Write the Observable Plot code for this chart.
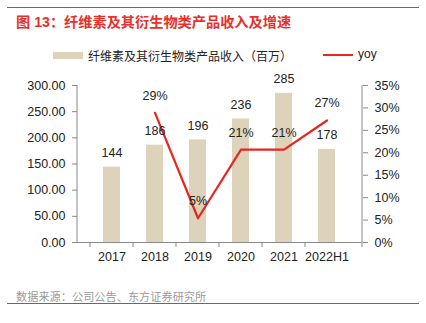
<!DOCTYPE html>
<html><head><meta charset="utf-8">
<script src="https://cdn.jsdelivr.net/npm/d3@7"></script>
<script src="https://cdn.jsdelivr.net/npm/@observablehq/plot@0.6"></script>
<style>
body{margin:0;background:#fff;width:426px;height:323px;position:relative;overflow:hidden;font-family:"Liberation Sans",Arial,"Noto Sans CJK SC",sans-serif;}
.abs{position:absolute;white-space:nowrap;}
#chart{position:absolute;left:0;top:70px;}
</style></head>
<body>
<div class="abs" style="left:7px;top:7px;width:412px;height:1px;background:#e8332c"></div>
<div class="abs" style="left:16px;top:11px;font-size:14.2px;font-weight:bold;color:#e8302b;">图 13：纤维素及其衍生物类产品收入及增速</div>
<div class="abs" style="left:53px;top:52px;width:30px;height:7px;background:#ddd3bb"></div>
<div class="abs" style="left:88px;top:47px;font-size:12px;color:#222;">纤维素及其衍生物类产品收入（百万）</div>
<div class="abs" style="left:323px;top:54px;width:30px;height:2px;background:#e8261f"></div>
<div class="abs" style="left:358px;top:47px;font-size:12px;color:#222;">yoy</div>
<div id="chart"></div>
<div class="abs" style="left:16px;top:288px;font-size:11.2px;color:#9a9a9a;">数据来源：公司公告、东方证券研究所</div>
<div class="abs" style="left:7px;top:303px;width:412px;height:1px;background:#e8332c"></div>
<script>
const years = ["2017","2018","2019","2020","2021","2022H1"];
const revenue = [144,186,196,236,285,178];
const yoyYears = ["2018","2019","2020","2021","2022H1"];
const yoy = [28.9,5.4,20.7,20.7,27.2];
const yoyLabels = ["29%","5%","21%","21%","27%"];
const leftTicks = [0,50,100,150,200,250,300];
const rightTicks = [0,5,10,15,20,25,30,35];

const k = 300/35;
const bars = years.map((y,i)=>({year:y, v:revenue[i]}));
const line = yoyYears.map((y,i)=>({year:y, v:yoy[i]*k, label:yoyLabels[i]}));

const chart = Plot.plot({
  width:426, height:200,
  marginTop:15, marginBottom:28, marginLeft:77, marginRight:64,
  style:{fontFamily:'"Liberation Sans",Arial,sans-serif', fontSize:"12.5px", color:"#222", background:"transparent"},
  x:{domain:years, padding:0.6},
  y:{domain:[0,300]},
  marks:[
    Plot.barY(bars,{x:"year", y:"v", fill:"#ddd3bb"}),
    Plot.lineY(line,{x:"year", y:"v", stroke:"#e8261f", strokeWidth:2.2}),
    Plot.text(bars,{x:"year", y:"v", text:d=>String(d.v), dy:-14, fill:"#222", fontSize:12.5}),
    Plot.text(line,{x:"year", y:"v", text:"label", dy:-17, fill:"#222", fontSize:12.5}),
    Plot.ruleY([0],{stroke:"#888"}),
    Plot.axisY(leftTicks,{anchor:"left", tickSize:5, tickPadding:7, stroke:"#888", tickFormat:d=>d.toFixed(2), label:null}),
    Plot.axisY(rightTicks.map(v=>v*k),{anchor:"right", tickSize:5, tickPadding:7, stroke:"#888", tickFormat:d=>Math.round(d/k)+"%", label:null}),
    Plot.axisX({tickSize:0, tickPadding:10, label:null})
  ]
});
document.getElementById("chart").appendChild(chart);

// axis lines and category boundary ticks
const xs = chart.scale("x"), ys = chart.scale("y");
const svg = d3.select(chart);
const y0 = ys.apply(0), y1 = ys.apply(300);
const xl = 77, xr = 426-64;
const g = svg.append("g").attr("stroke","#888").attr("stroke-width",1);
g.append("line").attr("x1",xl).attr("x2",xl).attr("y1",y0).attr("y2",y1);
g.append("line").attr("x1",xr).attr("x2",xr).attr("y1",y0).attr("y2",y1);
const step = xs.step;
years.forEach((y,i)=>{
  const bx = xs.apply(y) + xs.bandwidth/2 - step/2;
  g.append("line").attr("x1",bx).attr("x2",bx).attr("y1",y0).attr("y2",y0+5);
});
g.append("line").attr("x1",xr).attr("x2",xr).attr("y1",y0).attr("y2",y0+5);
</script>
</body></html>
